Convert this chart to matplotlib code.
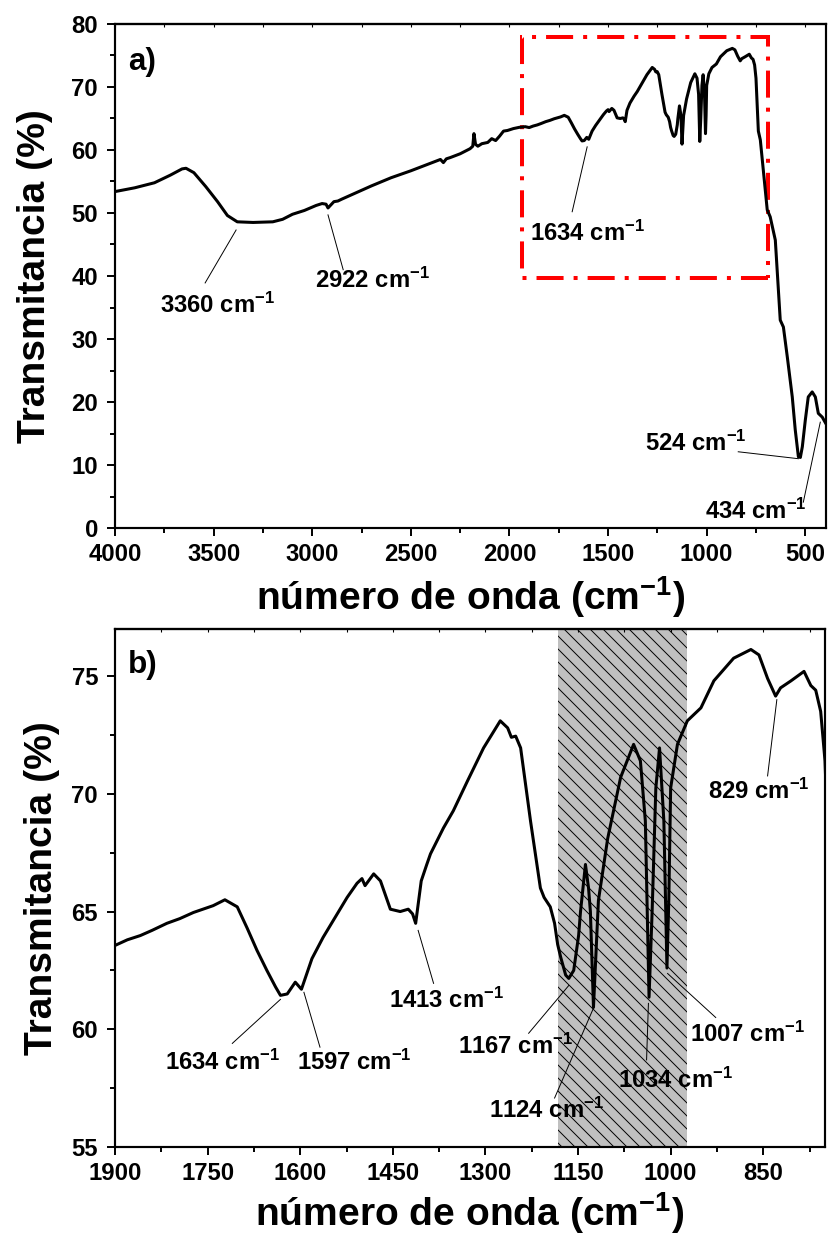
import matplotlib
matplotlib.use("Agg")
import matplotlib.pyplot as plt
from matplotlib.patches import Rectangle
from matplotlib.ticker import MultipleLocator, FixedLocator
import numpy as np

# FTIR spectrum: wavenumber (cm-1) and transmittance (%)
wn_high = [4000, 3900, 3800, 3720, 3660, 3640, 3600, 3540, 3480, 3430, 3380, 3300,
           3200, 3150, 3100, 3040, 2980, 2950, 2930, 2920, 2905, 2890, 2870, 2850,
           2800, 2700, 2600, 2500, 2400, 2350, 2335, 2320, 2300, 2250, 2200, 2186,
           2180, 2172, 2160, 2140, 2110, 2090, 2070, 2050, 2030, 2010, 1980, 1950, 1920]
t_high = [53.4, 54.0, 54.8, 56.0, 57.0, 57.1, 56.4, 54.2, 51.8, 49.6, 48.6, 48.5,
          48.6, 49.0, 49.8, 50.4, 51.2, 51.5, 51.4, 50.8, 51.3, 51.8, 51.9, 52.2,
          52.9, 54.3, 55.6, 56.7, 57.9, 58.5, 58.0, 58.6, 58.8, 59.4, 60.2, 60.6,
          62.6, 60.9, 60.6, 61.0, 61.2, 61.8, 61.5, 62.2, 63.0, 63.1, 63.4, 63.6, 63.7]

wn_mid = [1900, 1880, 1859, 1840, 1816, 1795, 1773, 1741, 1722, 1702, 1686, 1670,
          1654, 1640, 1632, 1621, 1608, 1598, 1581, 1563, 1540, 1524, 1508, 1500,
          1495, 1481, 1470, 1454, 1438, 1425, 1418, 1413, 1409, 1404, 1395, 1389,
          1368, 1352, 1329, 1303, 1276, 1264, 1258, 1251, 1243, 1227, 1211, 1205,
          1195, 1188, 1183, 1178, 1170, 1165, 1157, 1149, 1146, 1138, 1133, 1130,
          1125, 1117, 1102, 1081, 1060, 1049, 1041, 1038, 1035, 1030, 1024, 1018,
          1011, 1008, 1006, 1003, 1000, 989, 973, 951, 930, 898, 870, 857, 843, 830,
          822, 805, 784, 773, 765, 757, 750]
t_mid = [63.56, 63.8, 63.98, 64.2, 64.5, 64.7, 64.96, 65.25, 65.5, 65.2, 64.3, 63.35,
         62.5, 61.8, 61.44, 61.5, 62.0, 61.7, 63.0, 63.9, 64.9, 65.6, 66.2, 66.4,
         66.1, 66.6, 66.3, 65.1, 65.0, 65.1, 64.9, 64.5, 65.3, 66.3, 67.0, 67.45,
         68.55, 69.28, 70.55, 71.95, 73.1, 72.8, 72.4, 72.45, 71.95, 68.85, 66.0, 65.6,
         65.2, 64.5, 63.6, 63.05, 62.3, 62.16, 62.5, 64.0, 65.0, 67.0, 66.0, 65.0,
         60.93, 65.47, 68.1, 70.7, 72.1, 71.4, 68.85, 65.0, 61.36, 65.0, 70.25, 71.95,
         68.85, 65.0, 62.6, 65.47, 70.25, 72.1, 73.1, 73.65, 74.8, 75.76, 76.13, 75.9,
         74.9, 74.15, 74.5, 74.8, 75.2, 74.6, 74.4, 73.5, 71.4]

wn_low = [738, 728, 693, 678, 652, 640, 627, 611, 591, 566, 551, 535, 525, 515, 500,
          485, 465, 449, 434, 414, 398]
t_low = [63.0, 61.6, 50.5, 49.4, 45.7, 39.6, 33.0, 31.9, 27.1, 20.8, 15.6, 11.3, 11.2,
         12.9, 17.1, 20.8, 21.6, 20.8, 18.2, 17.6, 16.7]

wn = np.array(wn_high + wn_mid + wn_low, dtype=float)
tr = np.array(t_high + t_mid + t_low, dtype=float)

# peak labels, panel a: point on the curve, end of leader line, text anchor (left, baseline)
a_labels = ["3360", "2922", "1634", "524", "434"]
a_peak = [(3386, 47.3), (2920, 49.7), (1606, 60.5), (535, 11.0), (424, 16.8)]
a_lead = [(3543, 38.9), (2843, 41.0), (1682, 50.2), (840, 12.1), (510, 4.1)]
a_text = [(3772, 34.1), (2986, 38.1), (1895, 45.6), (1312, 12.2), (1007, 1.4)]

# peak labels, panel b
b_labels = ["1634", "1597", "1413", "1167", "1124", "1034", "1007", "829"]
b_peak = [(1632, 61.27), (1594, 61.57), (1409, 64.2), (1165, 61.86),
          (1125, 60.9), (1036, 61.1), (1005, 62.37), (828, 74.0)]
b_lead = [(1710, 59.4), (1568, 59.24), (1384, 61.95), (1230, 59.83),
          (1188, 57.08), (1039, 58.7), (927, 60.5), (843, 70.76)]
b_text = [(1819, 58.26), (1605, 58.26), (1457, 60.89), (1344, 58.94),
          (1295, 56.23), (1086, 57.5), (968, 59.45), (940, 69.79)]

box_x = [1936, 688]      # zoom window marked in panel a
box_y = [39.7, 78.0]
band_x = [1183, 973]     # shaded band in panel b

b_xticks = [1900, 1750, 1600, 1450, 1300, 1150, 1000, 850]
b_xminor = [1825, 1675, 1525, 1375, 1225, 1075, 925, 775]

plt.rcParams.update({
    "font.family": ["Liberation Sans", "DejaVu Sans"],
    "font.weight": "bold",
    "mathtext.fontset": "custom",
    "mathtext.rm": "Liberation Sans:bold",
    "mathtext.it": "Liberation Sans:bold",
    "mathtext.bf": "Liberation Sans:bold",
    "mathtext.sf": "Liberation Sans:bold",
    "mathtext.default": "bf",
    "hatch.linewidth": 0.9,
})

DPI = 78
fig = plt.figure(figsize=(828 / DPI, 1236 / DPI), dpi=DPI)
ax1 = fig.add_axes([115 / 828, 1 - 528 / 1236, 711 / 828, 504 / 1236])
ax2 = fig.add_axes([115 / 828, 1 - 1147 / 1236, 710 / 828, 518 / 1236])

xlab = r"número de onda (cm$^{-1}$)"


def style(ax):
    for s in ax.spines.values():
        s.set_linewidth(2.0)
    ax.tick_params(which="both", direction="out", width=1.8, labelsize=22)
    ax.tick_params(which="major", length=7.8)
    ax.tick_params(which="minor", length=4.6)
    ax.tick_params(axis="x", which="major", pad=6.3)
    ax.tick_params(axis="y", which="major", pad=7.8)
    for lab in ax.get_xticklabels() + ax.get_yticklabels():
        lab.set_fontweight("bold")
    top = ax.secondary_xaxis("top")
    top.xaxis.set_major_locator(ax.xaxis.get_major_locator())
    top.xaxis.set_minor_locator(ax.xaxis.get_minor_locator())
    top.tick_params(which="both", direction="in", length=2.5, width=1.0,
                    labeltop=False)
    top.spines["top"].set_linewidth(2.0)


# ---- panel a
ax1.plot(wn, tr, color="black", lw=2.8, zorder=3)
ax1.set_xlim(4000, 395)
ax1.set_ylim(0, 80)
ax1.xaxis.set_major_locator(MultipleLocator(500))
ax1.xaxis.set_minor_locator(MultipleLocator(250))
ax1.yaxis.set_major_locator(MultipleLocator(10))
ax1.yaxis.set_minor_locator(MultipleLocator(5))
style(ax1)
ax1.add_patch(Rectangle((box_x[1], box_y[0]), box_x[0] - box_x[1], box_y[1] - box_y[0],
                        fill=False, ec="red", lw=3.7, ls=(0, (6.75, 2.5, 1, 2.5)), zorder=2))
for lab, p, q, t in zip(a_labels, a_peak, a_lead, a_text):
    ax1.plot([p[0], q[0]], [p[1], q[1]], color="black", lw=0.9)
    ax1.text(t[0], t[1], lab + r" cm$^{-1}$", fontsize=22, fontweight="bold",
             ha="left", va="baseline")
ax1.text(0.018, 0.909, "a)", transform=ax1.transAxes, fontsize=29,
         fontweight="bold", va="baseline")
ax1.set_ylabel("Transmitancia (%)", fontsize=36, fontweight="bold")
ax1.yaxis.set_label_coords(-0.0868, 0.5)
ax1.set_xlabel(xlab, fontsize=36, fontweight="bold", va="baseline")
ax1.xaxis.set_label_coords(0.5, -0.1627)

# ---- panel b
ax2.axvspan(band_x[0], band_x[1], facecolor="#c0c0c0", edgecolor="black",
            hatch="\\\\", lw=0, zorder=0)
ax2.plot(wn, tr, color="black", lw=2.8, zorder=3)
ax2.set_xlim(1900, 750)
ax2.set_ylim(55, 77)
ax2.xaxis.set_major_locator(FixedLocator(b_xticks))
ax2.xaxis.set_minor_locator(FixedLocator(b_xminor))
ax2.yaxis.set_major_locator(MultipleLocator(5))
ax2.yaxis.set_minor_locator(MultipleLocator(2.5))
style(ax2)
for lab, p, q, t in zip(b_labels, b_peak, b_lead, b_text):
    ax2.plot([p[0], q[0]], [p[1], q[1]], color="black", lw=0.9, zorder=4)
    ax2.text(t[0], t[1], lab + r" cm$^{-1}$", fontsize=22, fontweight="bold",
             ha="left", va="baseline", zorder=5)
ax2.text(0.018, 0.915, "b)", transform=ax2.transAxes, fontsize=29,
         fontweight="bold", va="baseline")
ax2.set_ylabel("Transmitancia (%)", fontsize=36, fontweight="bold")
ax2.yaxis.set_label_coords(-0.077, 0.5)
ax2.set_xlabel(xlab, fontsize=36, fontweight="bold", va="baseline")
ax2.xaxis.set_label_coords(0.5, -0.1525)

fig.savefig("out.png", dpi=DPI)
